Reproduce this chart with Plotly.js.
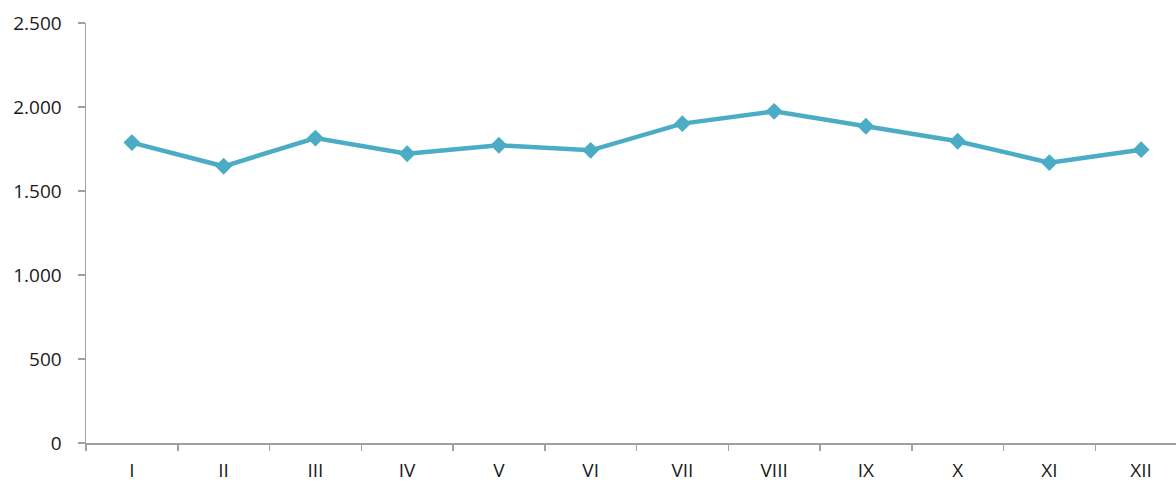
<!DOCTYPE html>
<html>
<head>
<meta charset="utf-8">
<script src="https://cdn.plot.ly/plotly-3.0.1.min.js"></script>
<style>html,body{margin:0;padding:0;background:#fff;}#chart{width:1176px;height:482px;}</style>
</head>
<body>
<div id="chart"></div>
<script>
const months = ["I","II","III","IV","V","VI","VII","VIII","IX","X","XI","XII"];
const values = [1788, 1647, 1815, 1722, 1772, 1742, 1901, 1974, 1885, 1796, 1669, 1746];
const yTicks = [0, 500, 1000, 1500, 2000, 2500];

const trace = {
  x: months,
  y: values,
  type: "scatter",
  mode: "lines+markers",
  line: {color: "#4BACC6", width: 4.5},
  marker: {symbol: "diamond", size: 13, color: "#4BACC6"},
  hoverinfo: "x+y"
};

const axisColor = "#A0A0A0";
const layout = {
  width: 1176, height: 482,
  margin: {l: 86, r: 0, t: 23, b: 39, pad: 0},
  paper_bgcolor: "#fff", plot_bgcolor: "#fff",
  separators: ",.",
  showlegend: false,
  font: {family: "Open Sans, Noto Sans, sans-serif", size: 19, color: "#1a1a1a"},
  xaxis: {
    type: "category",
    range: [-0.5, 11.38],
    showline: true, linecolor: axisColor, linewidth: 1.5,
    ticks: "outside", tickson: "boundaries", ticklen: 6, tickcolor: axisColor, tickwidth: 1.5,
    showgrid: false, zeroline: false,
    ticklabelstandoff: 10,
    tickfont: {size: 19, color: "#1a1a1a"}
  },
  yaxis: {
    range: [0, 2500],
    tickvals: yTicks,
    tickformat: ",d",
    showline: true, linecolor: axisColor, linewidth: 1.5,
    ticks: "outside", ticklen: 7, tickcolor: axisColor, tickwidth: 1.5,
    showgrid: false, zeroline: false,
    ticklabelstandoff: 12,
    tickfont: {size: 19, color: "#1a1a1a"}
  }
};

Plotly.newPlot("chart", [trace], layout, {displayModeBar: false, staticPlot: true});
</script>
</body>
</html>
